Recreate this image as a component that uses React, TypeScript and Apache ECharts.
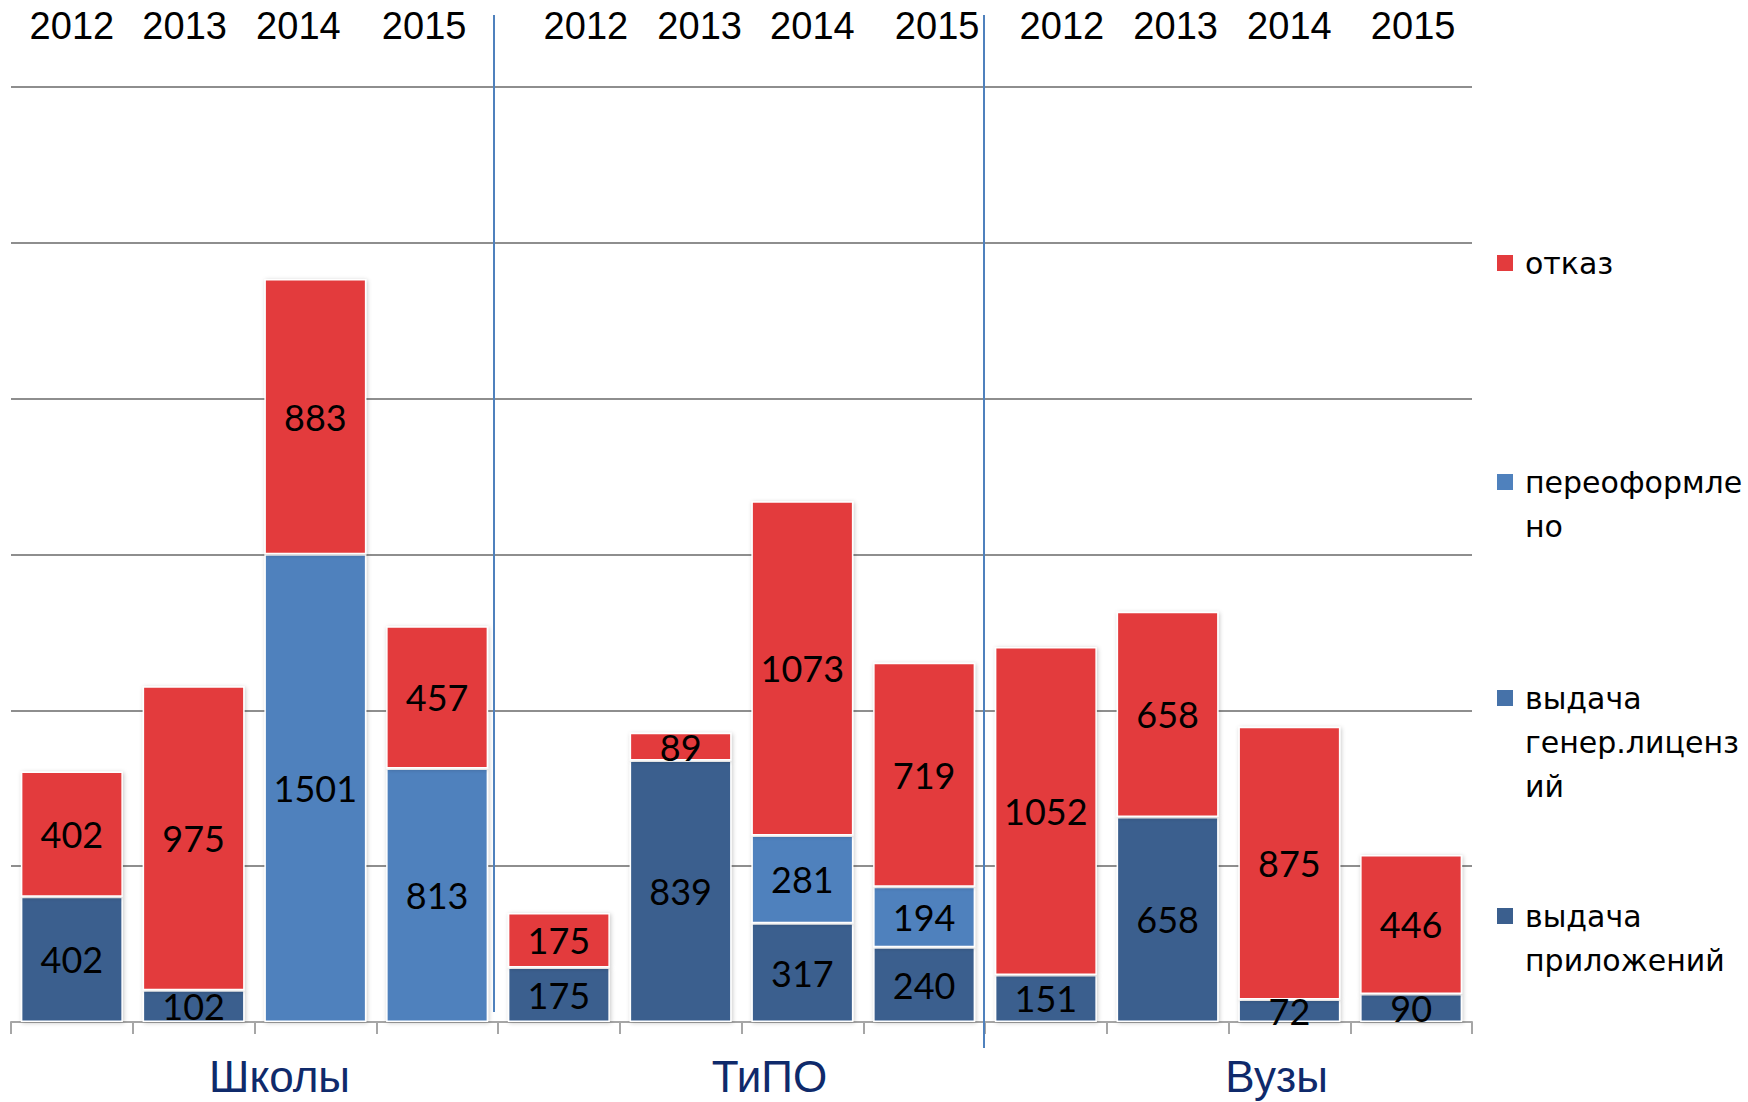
import React, { useEffect, useRef } from "react";
import * as echarts from "echarts";

const groups = ["Школы", "ТиПО", "Вузы"];
const years = ["2012", "2013", "2014", "2015"];
const categories = groups.flatMap((g) => years.map((y) => `${g} ${y}`));
const yearLabels = groups.flatMap(() => years);

const seriesNames = ["выдача приложений", "выдача генер.лицензий", "переоформлено", "отказ"];
const applications = [402, 102, null, null, 175, 839, 317, 240, 151, 658, 72, 90];
const genLicenses = [null, null, null, null, null, null, null, null, null, null, null, null];
const reissued = [null, null, 1501, 813, null, null, 281, 194, null, null, null, null];
const refusals = [402, 975, 883, 457, 175, 89, 1073, 719, 1052, 658, 875, 446];
const seriesData = [applications, genLicenses, reissued, refusals];
const seriesColors = ["#3B5F8E", "#4672A9", "#4F81BD", "#E33B3D"];

const legendOrder = ["отказ", "переоформлено", "выдача генер.лицензий", "выдача приложений"];
const legendWrapped: Record<string, string> = {
  "отказ": "отказ",
  "переоформлено": "переоформле\nно",
  "выдача генер.лицензий": "выдача\nгенер.лиценз\nий",
  "выдача приложений": "выдача\nприложений",
};
const legendFirstLineY = [263, 482, 698, 916];
const LH = 44;

// horizontal nudges (px) of the text boxes, as placed in the original
const yearLabelShift = [0, -9, -17, -13, 27, 19, 10, 13, 16, 8, 0, 2];
const groupLabelShift = [25, 28, 48];

const shiftPad = (s: number) => [0, Math.max(0, -2 * s), 0, Math.max(0, 2 * s)];

export default function App() {
  const ref = useRef<HTMLDivElement>(null);
  useEffect(() => {
    document.body.style.margin = "0";
    const chart = echarts.init(ref.current!, null, { renderer: "svg" });
    const gridRect = { left: 11, right: 276, top: 87, bottom: 80 };
    const legends = legendOrder.map((name, i) => {
      const n = legendWrapped[name].split("\n").length;
      return {
        show: true,
        orient: "vertical",
        left: 1495,
        top: legendFirstLineY[i] - ((2 * n - 1) * LH) / 2,
        padding: 0,
        itemGap: 0,
        itemWidth: 18,
        itemHeight: 18,
        icon: "rect",
        selectedMode: false,
        data: [name],
        formatter: (nm: string) => {
          const t = legendWrapped[nm];
          const k = t.split("\n").length;
          return "\n".repeat(k - 1) + t;
        },
        textStyle: {
          fontSize: 30,
          fontFamily: "DejaVu Sans",
          color: "#000",
          lineHeight: LH,
          padding: [0, 0, 0, 6],
        },
      };
    });
    const yearRich: Record<string, any> = {};
    yearLabelShift.forEach((s, i) => {
      yearRich[`y${i}`] = { fontSize: 38, fontFamily: "Liberation Sans", color: "#000", padding: shiftPad(s) };
    });
    const groupRich: Record<string, any> = {};
    groupLabelShift.forEach((s, i) => {
      groupRich[`g${i}`] = { fontSize: 44, fontFamily: "Liberation Sans", color: "#0F2A6B", padding: shiftPad(s) };
    });
    chart.setOption({
      animation: false,
      backgroundColor: "#fff",
      legend: legends,
      grid: [
        { ...gridRect, containLabel: false },
        { ...gridRect, containLabel: false },
      ],
      xAxis: [
        {
          type: "category",
          gridIndex: 0,
          position: "bottom",
          data: categories,
          axisLine: { show: true, lineStyle: { color: "#A6A6A6", width: 2 } },
          axisTick: { show: true, length: 12, lineStyle: { color: "#A6A6A6", width: 2 } },
          axisLabel: { show: false },
          splitLine: { show: false },
        },
        {
          type: "category",
          gridIndex: 0,
          position: "top",
          data: yearLabels,
          axisLine: { show: false },
          axisTick: { show: false },
          splitLine: { show: false },
          axisLabel: {
            show: true,
            margin: 42,
            formatter: (v: string, idx: number) => `{y${idx}|${v}}`,
            rich: yearRich,
          },
        },
        {
          type: "category",
          gridIndex: 1,
          position: "bottom",
          data: groups,
          axisLine: { show: false },
          axisTick: { show: false },
          splitLine: { show: false },
          axisLabel: {
            show: true,
            margin: 32,
            formatter: (v: string, idx: number) => `{g${idx}|${v}}`,
            rich: groupRich,
          },
        },
      ],
      yAxis: [
        {
          type: "value",
          gridIndex: 0,
          min: 0,
          max: 3000,
          interval: 500,
          axisLine: { show: false },
          axisTick: { show: false },
          axisLabel: { show: false },
          splitLine: { show: true, lineStyle: { color: "#8E8E8E", width: 2 } },
        },
        { type: "value", gridIndex: 1, show: false, min: 0, max: 3000 },
      ],
      series: seriesNames.map((name, i) => ({
        name,
        type: "bar",
        stack: "total",
        xAxisIndex: 0,
        yAxisIndex: 0,
        barWidth: 102,
        data: seriesData[i],
        itemStyle: {
          color: seriesColors[i],
          borderColor: "#fff",
          borderWidth: 1.5,
          shadowColor: "rgba(0,0,0,0.22)",
          shadowBlur: 4,
          shadowOffsetX: 1,
          shadowOffsetY: 1,
        },
        label: {
          show: true,
          position: "inside",
          color: "#000",
          fontSize: 36,
          fontFamily: "Lato",
          formatter: (p: any) => (p.value ? String(p.value) : ""),
        },
      })),
    });
    const px = (i: number) => chart.convertToPixel({ xAxisIndex: 0 }, categories[i]) as number;
    const b1 = (px(3) + px(4)) / 2 - 4;
    const b2 = (px(7) + px(8)) / 2 - 1;
    chart.setOption({
      graphic: [
        { type: "line", shape: { x1: b1, y1: 15, x2: b1, y2: 1012 }, style: { stroke: "#4F81BD", lineWidth: 2 }, z: 10 },
        { type: "line", shape: { x1: b2, y1: 15, x2: b2, y2: 1048 }, style: { stroke: "#4F81BD", lineWidth: 2 }, z: 10 },
      ],
    });
    return () => chart.dispose();
  }, []);
  return <div ref={ref} style={{ width: 1748, height: 1102 }} />;
}
